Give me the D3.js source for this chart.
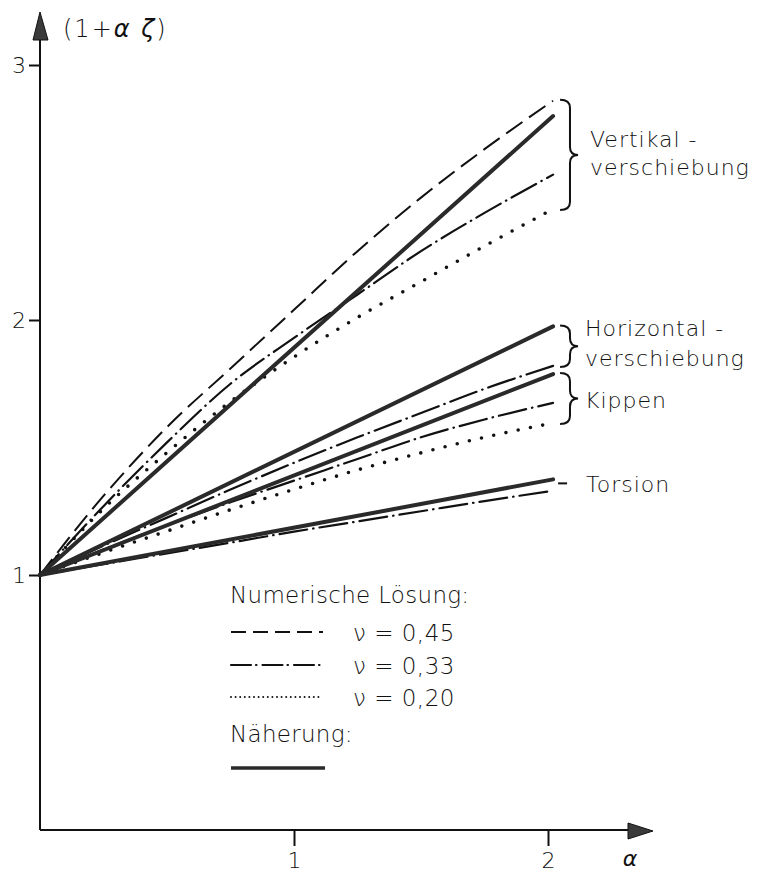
<!DOCTYPE html>
<html>
<head>
<meta charset="utf-8">
<script src="https://cdn.jsdelivr.net/npm/d3@7"></script>
<style>
  html, body { margin: 0; padding: 0; background: #fff; }
  svg { display: block; }
  text { font-family: "DejaVu Sans", "Liberation Sans", sans-serif; font-weight: 200; fill: #111; }
</style>
</head>
<body>
<svg id="chart" width="760" height="874"></svg>
<script>
// α grid shared by the numerical solutions
const alphaGrid = [0, 0.25, 0.5, 0.75, 1.0, 1.25, 1.5, 1.75, 2.02];

// Numerische Lösung, (1 + αζ) per α
const vertikal045   = [1, 1.31, 1.58, 1.81, 2.04, 2.27, 2.48, 2.67, 2.86];
const vertikal033   = [1, 1.27, 1.52, 1.75, 1.93, 2.10, 2.27, 2.42, 2.57];
const vertikal020   = [1, 1.26, 1.48, 1.68, 1.855, 2.01, 2.15, 2.29, 2.435];
const horizontal033 = [1, 1.115, 1.225, 1.335, 1.44, 1.54, 1.635, 1.73, 1.82];
const kippen033     = [1, 1.10, 1.195, 1.285, 1.37, 1.455, 1.54, 1.61, 1.675];
const kippen020     = [1, 1.088, 1.172, 1.256, 1.336, 1.412, 1.479, 1.54, 1.596];
const torsion033    = [1, 1.042, 1.085, 1.127, 1.17, 1.21, 1.25, 1.29, 1.33];

// Näherung: straight lines from α = 0 to α = 2.02
const approxAlpha      = [0, 2.02];
const approxVertikal   = [1, 2.80];
const approxHorizontal = [1, 1.975];
const approxKippen     = [1, 1.788];
const approxTorsion    = [1, 1.375];

// axis ticks
const yTicks = [1, 2, 3];
const xTicks = [1, 2];

const svg = d3.select("#chart");
const x = d3.scaleLinear().domain([0, 2]).range([40, 548]);
const y = d3.scaleLinear().domain([0, 3]).range([830, 65]);
const ink = "#111";

// axes lines with arrow heads
svg.append("line").attr("x1", x(0)).attr("x2", x(0)).attr("y1", y(0)).attr("y2", 30)
  .attr("stroke", ink).attr("stroke-width", 2);
svg.append("path").attr("d", `M${x(0)},12 L${x(0) - 7},40 L${x(0) + 8},40 Z`)
  .attr("fill", "#3a3a3a").attr("stroke", ink).attr("stroke-width", 1);
svg.append("line").attr("x1", x(0)).attr("x2", 640).attr("y1", y(0)).attr("y2", y(0))
  .attr("stroke", ink).attr("stroke-width", 2);
svg.append("path").attr("d", `M653,${y(0) + 1} L628,${y(0) - 7} L628,${y(0) + 9} Z`)
  .attr("fill", "#3a3a3a").attr("stroke", ink).attr("stroke-width", 1);

// tick marks and labels via d3 axes
const yAxis = svg.append("g").attr("transform", `translate(${x(0)},0)`)
  .call(d3.axisLeft(y).tickValues(yTicks).tickSize(11).tickSizeOuter(0).tickPadding(3).tickFormat(d3.format("d")));
const xAxis = svg.append("g").attr("transform", `translate(0,${y(0)})`)
  .call(d3.axisBottom(x).tickValues(xTicks).tickSize(16).tickSizeOuter(0).tickPadding(6).tickFormat(d3.format("d")));
[yAxis, xAxis].forEach(g => {
  g.select(".domain").remove();
  g.selectAll(".tick line").attr("stroke", ink).attr("stroke-width", 2);
  g.selectAll(".tick text").attr("fill", ink).style("font-size", "22px")
    .style("font-family", '"DejaVu Sans", sans-serif').style("font-weight", 200);
});

// axis titles
const yTitle = svg.append("text").attr("x", 63).attr("y", 37).style("font-size", "24px")
  .attr("letter-spacing", "2");
yTitle.append("tspan").text("(1+");
yTitle.append("tspan").style("font-style", "italic").text("α ζ");
yTitle.append("tspan").text(")");
svg.append("text").attr("x", 630).attr("y", 866).attr("text-anchor", "middle")
  .style("font-size", "22px").style("font-style", "italic").text("α");

// curves
const curveLine = d3.line().x((d, i) => x(alphaGrid[i])).y(d => y(d)).curve(d3.curveMonotoneX);
const approxLine = d3.line().x((d, i) => x(approxAlpha[i])).y(d => y(d));

const dashed  = { dash: "20,8", width: 2, cap: "butt" };
const dashDot = { dash: "28,6,0.5,6", width: 2.2, cap: "round" };
const dotted  = { dash: "0,12.5", width: 3.6, cap: "round" };

const numeric = [
  [vertikal045, dashed], [vertikal033, dashDot], [vertikal020, dotted],
  [horizontal033, dashDot], [kippen033, dashDot], [kippen020, dotted],
  [torsion033, dashDot]
];
numeric.forEach(([vals, st]) => {
  svg.append("path").attr("d", curveLine(vals)).attr("fill", "none")
    .attr("stroke", ink).attr("stroke-width", st.width)
    .attr("stroke-dasharray", st.dash).attr("stroke-linecap", st.cap);
});

[approxVertikal, approxHorizontal, approxKippen, approxTorsion].forEach(vals => {
  svg.append("path").attr("d", approxLine(vals)).attr("fill", "none")
    .attr("stroke", "#2a2a2a").attr("stroke-width", 4).attr("stroke-linecap", "round");
});

// curly braces grouping the curve ends
function brace(xb, y0, y1, w) {
  const ym = (y0 + y1) / 2, r = Math.min(8, (y1 - y0) / 5);
  const xc = xb + w * 0.55;
  return `M${xb},${y0} Q${xc},${y0} ${xc},${y0 + r} L${xc},${ym - r}` +
         ` Q${xc},${ym} ${xb + w},${ym} Q${xc},${ym} ${xc},${ym + r}` +
         ` L${xc},${y1 - r} Q${xc},${y1} ${xb},${y1}`;
}
const endA = alphaGrid[alphaGrid.length - 1];
const last = a => a[a.length - 1];
const braces = [
  [last(vertikal045), last(vertikal020)],
  [last(approxHorizontal), last(horizontal033)],
  [last(approxKippen), last(kippen020)]
];
braces.forEach(([top, bot]) => {
  svg.append("path").attr("d", brace(x(endA) + 7, y(top) - 1, y(bot) + 1, 18))
    .attr("fill", "none").attr("stroke", ink).attr("stroke-width", 2);
});
svg.append("line").attr("x1", x(endA) + 5).attr("x2", x(endA) + 14)
  .attr("y1", y(last(approxTorsion)) + 4).attr("y2", y(last(approxTorsion)) + 4)
  .attr("stroke", ink).attr("stroke-width", 2);

// group labels
const labels = [
  ["Vertikal -", 590, 147], ["verschiebung", 590, 175],
  ["Horizontal -", 585, 336], ["verschiebung", 585, 366],
  ["Kippen", 585, 408], ["Torsion", 586, 492]
];
labels.forEach(([t, lx, ly]) => {
  svg.append("text").attr("x", lx).attr("y", ly).style("font-size", "22px")
    .attr("letter-spacing", "1").text(t);
});

// legend
const leg = svg.append("g");
leg.append("text").attr("x", 230).attr("y", 603).style("font-size", "23px")
  .attr("letter-spacing", "0.3").text("Numerische Lösung:");
const legendRows = [
  ["ν = 0,45", 632, "15,7", 2, "butt"],
  ["ν = 0,33", 665, "20,5,0.5,6", 2.2, "round"],
  ["ν = 0,20", 697, "0,4.6", 2, "round"]
];
legendRows.forEach(([t, ly, dash, w, cap]) => {
  leg.append("line").attr("x1", 231).attr("x2", 323).attr("y1", ly).attr("y2", ly)
    .attr("stroke", ink).attr("stroke-width", w).attr("stroke-dasharray", dash)
    .attr("stroke-linecap", cap);
  leg.append("text").attr("x", 353).attr("y", ly + 9).style("font-size", "23px")
    .attr("letter-spacing", "0.5").text(t);
});
leg.append("text").attr("x", 230).attr("y", 742).style("font-size", "23px")
  .attr("letter-spacing", "0.3").text("Näherung:");
leg.append("line").attr("x1", 231).attr("x2", 325).attr("y1", 768).attr("y2", 768)
  .attr("stroke", "#2a2a2a").attr("stroke-width", 3.5);
</script>
</body>
</html>
